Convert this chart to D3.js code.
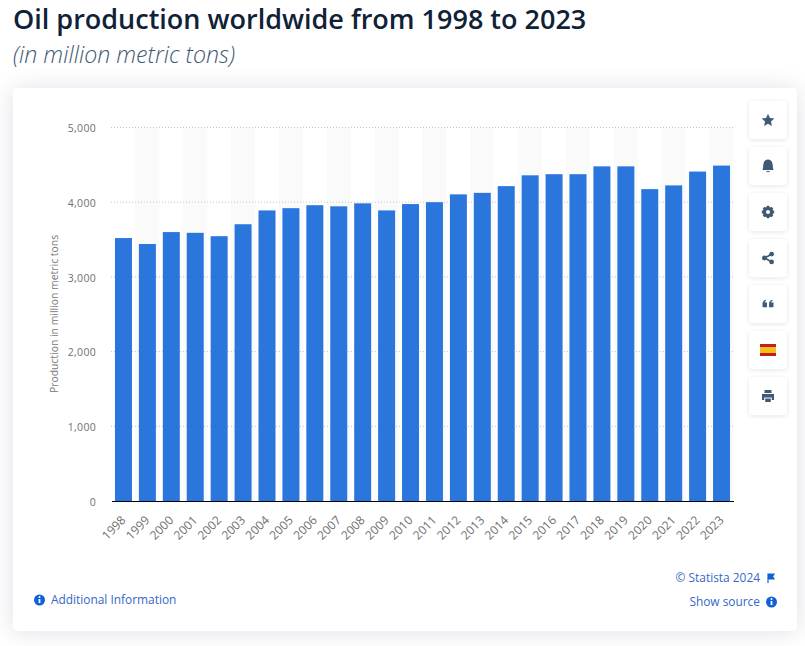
<!DOCTYPE html>
<html>
<head>
<meta charset="utf-8">
<script src="https://cdn.jsdelivr.net/npm/d3@7"></script>
<style>
  html, body { margin: 0; padding: 0; background: #fff; }
  svg { display: block; font-family: "Open Sans", sans-serif; }
</style>
</head>
<body>
<svg id="chart" width="805" height="646"></svg>
<script>
const years = ["1998","1999","2000","2001","2002","2003","2004","2005","2006","2007","2008","2009","2010","2011","2012","2013","2014","2015","2016","2017","2018","2019","2020","2021","2022","2023"];
const production = [3520,3440,3600,3590,3545,3705,3890,3920,3960,3945,3985,3890,3975,4000,4105,4125,4215,4360,4375,4375,4480,4480,4175,4225,4410,4490];
const yTicks = [0,1000,2000,3000,4000,5000];

const svg = d3.select("#chart");

// drop shadow for the card and the buttons
const defs = svg.append("defs");
const cardShadow = defs.append("filter").attr("id", "cardShadow")
  .attr("x", "-8%").attr("y", "-8%").attr("width", "116%").attr("height", "116%");
cardShadow.append("feDropShadow").attr("dx", 0).attr("dy", 1).attr("stdDeviation", 12)
  .attr("flood-color", "#0f2b4b").attr("flood-opacity", 0.12);
const btnShadow = defs.append("filter").attr("id", "btnShadow")
  .attr("x", "-30%").attr("y", "-30%").attr("width", "160%").attr("height", "160%");
btnShadow.append("feDropShadow").attr("dx", 0).attr("dy", 1).attr("stdDeviation", 2)
  .attr("flood-color", "#0f2b4b").attr("flood-opacity", 0.11);

svg.append("text").attr("x", 13).attr("y", 29)
  .attr("font-size", 27).attr("font-weight", 600).attr("fill", "#0f2237")
  .text("Oil production worldwide from 1998 to 2023");
svg.append("text").attr("x", 13).attr("y", 63)
  .attr("font-size", 23.2).attr("font-style", "italic").attr("font-weight", 300).attr("fill", "#3f5a75")
  .text("(in million metric tons)");

svg.append("rect").attr("x", 13).attr("y", 88).attr("width", 784).attr("height", 543)
  .attr("rx", 5).attr("fill", "#fff").attr("filter", "url(#cardShadow)");

const x = d3.scaleBand().domain(years).range([111.5, 733.5]).paddingInner(0.29).paddingOuter(0.145);
const y = d3.scaleLinear().domain([0, 5000]).range([501, 127.5]);
const step = x.step();

// alternating column bands
svg.append("g").selectAll("rect")
  .data(years.filter((d, i) => i % 2 === 1))
  .join("rect")
  .attr("x", d => x(d) - step * 0.145)
  .attr("y", y(5000))
  .attr("width", step)
  .attr("height", y(0) - y(5000))
  .attr("fill", "#fafafa");

// gridlines
svg.append("g").selectAll("line")
  .data(yTicks.filter(d => d > 0))
  .join("line")
  .attr("x1", 111).attr("x2", 733)
  .attr("y1", d => y(d)).attr("y2", d => y(d))
  .attr("stroke", "#c4c4c4").attr("stroke-width", 1).attr("stroke-dasharray", "1 2");

svg.append("g").selectAll("rect")
  .data(years)
  .join("rect")
  .attr("x", d => x(d))
  .attr("y", (d, i) => y(production[i]))
  .attr("width", x.bandwidth())
  .attr("height", (d, i) => y(0) - y(production[i]))
  .attr("fill", "#2a76dd");

// axes
const yAxis = svg.append("g").attr("transform", "translate(111,1)")
  .call(d3.axisLeft(y).tickValues(yTicks).tickFormat(d3.format(",")).tickSize(0).tickPadding(15));
yAxis.select(".domain").remove();
yAxis.selectAll("text").attr("font-size", 10.5).attr("font-family", "'Open Sans'").attr("fill", "#707070").attr("letter-spacing", 0.3);

const xAxis = svg.append("g").attr("transform", "translate(0,501)")
  .call(d3.axisBottom(x).tickSize(0));
xAxis.select(".domain").attr("stroke", "#000").attr("stroke-width", 1);
xAxis.selectAll("text")
  .attr("font-size", 12).attr("font-family", "'Open Sans'").attr("fill", "#707070")
  .attr("text-anchor", "end").attr("dy", 0).attr("y", 0)
  .attr("transform", "translate(3,20) rotate(-45)");

svg.append("text")
  .attr("transform", "translate(58,314) rotate(-90)")
  .attr("text-anchor", "middle").attr("font-size", 10.4).attr("fill", "#7a7a7a")
  .text("Production in million metric tons");

// side buttons
const buttons = ["star","bell","gear","share","quote","flag","print"];
const btn = svg.append("g").selectAll("g")
  .data(buttons)
  .join("g")
  .attr("transform", (d, i) => `translate(768,${120 + i * 46})`);
btn.append("rect").attr("x", -19).attr("y", -19).attr("width", 38).attr("height", 38)
  .attr("rx", 4).attr("fill", "#fff").attr("filter", "url(#btnShadow)");

const iconColor = "#3f5a75";
const iconPaths = {
  star: "M0,-6.2 L1.9,-2 L6.3,-1.5 L3,1.5 L3.9,6 L0,3.7 L-3.9,6 L-3,1.5 L-6.3,-1.5 L-1.9,-2 Z",
  bell: "M-5.5,4 C-4.6,2 -5,-1 -4.4,-3 C-3.8,-5.2 -2.2,-6.5 0,-6.5 C2.2,-6.5 3.8,-5.2 4.4,-3 C5,-1 4.6,2 5.5,4 Z M-1.8,5 H1.8 C1.5,6.6 -1.5,6.6 -1.8,5 Z",
  quote: "M-5.5,0 C-5.5,-2.5 -4,-4 -2,-4.2 V-3 C-2.8,-2.8 -3.3,-2.4 -3.4,-1.5 H-1 V3.2 H-5.5 Z M1,0 C1,-2.5 2.5,-4 4.5,-4.2 V-3 C3.7,-2.8 3.2,-2.4 3.1,-1.5 H5.5 V3.2 H1 Z",
  print: "M-3.5,-6 H3.5 V-3 H-3.5 Z M-6,-2 H6 V4 H3.8 V1.5 H-3.8 V4 H-6 Z M-2.8,2.6 H2.8 V6 H-2.8 Z"
};
btn.filter(d => iconPaths[d]).append("path")
  .attr("d", d => iconPaths[d]).attr("fill", iconColor);

const gear = btn.filter(d => d === "gear");
gear.append("circle").attr("r", 3.8).attr("fill", "none").attr("stroke", iconColor).attr("stroke-width", 3);
gear.selectAll("rect.tooth").data(d3.range(0, 180, 45)).join("rect").attr("class", "tooth")
  .attr("x", -1.4).attr("y", -6.2).attr("width", 2.8).attr("height", 12.4)
  .attr("transform", d => `rotate(${d})`).attr("fill", iconColor);
gear.append("circle").attr("r", 2).attr("fill", "#fff");

const share = btn.filter(d => d === "share");
share.append("path").attr("d", "M3.4,-3.8 L-3.4,0 L3.4,3.8").attr("fill", "none")
  .attr("stroke", iconColor).attr("stroke-width", 1.6);
share.selectAll("circle").data([[3.6,-3.9],[-3.6,0],[3.6,3.9]]).join("circle")
  .attr("cx", d => d[0]).attr("cy", d => d[1]).attr("r", 2.4).attr("fill", iconColor);

const flag = btn.filter(d => d === "flag");
flag.append("rect").attr("x", -8).attr("y", -6).attr("width", 16).attr("height", 12).attr("fill", "#c1201c");
flag.append("rect").attr("x", -8).attr("y", -3).attr("width", 16).attr("height", 6).attr("fill", "#f7be17");

// footer links
const linkColor = "#3568c6";
const footer = [
  { text: "Additional Information", x: 51, y: 604, anchor: "start" },
  { text: "© Statista 2024", x: 760, y: 582, anchor: "end" },
  { text: "Show source", x: 760, y: 606, anchor: "end" }
];
svg.append("g").selectAll("text").data(footer).join("text")
  .attr("x", d => d.x).attr("y", d => d.y).attr("text-anchor", d => d.anchor)
  .attr("font-size", 11.9).attr("fill", linkColor).text(d => d.text);

const infoIcons = [[39.5,600],[771.5,602]];
const info = svg.append("g").selectAll("g").data(infoIcons).join("g")
  .attr("transform", d => `translate(${d[0]},${d[1]})`);
info.append("circle").attr("r", 5.5).attr("fill", "#0f62d6");
info.append("rect").attr("x", -0.9).attr("y", -1).attr("width", 1.8).attr("height", 4).attr("fill", "#fff");
info.append("circle").attr("cy", -3).attr("r", 1).attr("fill", "#fff");

svg.append("path").attr("d", "M768,574 V583 M768,574 H774 L772.5,576.5 L774,579 H768 Z")
  .attr("fill", "#0f62d6").attr("stroke", "#0f62d6").attr("stroke-width", 1.2);
</script>
</body>
</html>
